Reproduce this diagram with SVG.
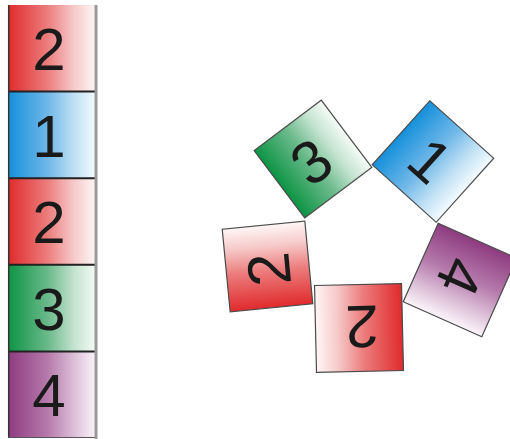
<svg xmlns="http://www.w3.org/2000/svg" width="510" height="439" viewBox="0 0 510 439">
  <style>
    .t{stroke:#4a4a4a;stroke-width:1.2}
    .d{font-family:"Liberation Sans",Arial,sans-serif;font-size:60px;fill:#1a1a1a;text-anchor:middle}
  </style>
  <defs>
    <linearGradient id="gR" x1="0" y1="0" x2="1" y2="0">
      <stop offset="0" stop-color="#e02a2c"/>
      <stop offset="0.45" stop-color="#ec7d7d"/>
      <stop offset="0.75" stop-color="#f6caca"/>
      <stop offset="1" stop-color="#fff6f6"/>
    </linearGradient>
    <linearGradient id="gB" x1="0" y1="0" x2="1" y2="0">
      <stop offset="0" stop-color="#1590db"/>
      <stop offset="0.45" stop-color="#6fb7e8"/>
      <stop offset="0.75" stop-color="#bfe0f4"/>
      <stop offset="1" stop-color="#f4fbff"/>
    </linearGradient>
    <linearGradient id="gG" x1="0" y1="0" x2="1" y2="0">
      <stop offset="0" stop-color="#0c9444"/>
      <stop offset="0.45" stop-color="#6ab98a"/>
      <stop offset="0.75" stop-color="#c3e3cf"/>
      <stop offset="1" stop-color="#f5fbf7"/>
    </linearGradient>
    <linearGradient id="gP" x1="0" y1="0" x2="1" y2="0">
      <stop offset="0" stop-color="#8e3b80"/>
      <stop offset="0.45" stop-color="#b57aab"/>
      <stop offset="0.75" stop-color="#dcbfd7"/>
      <stop offset="1" stop-color="#fbf5fa"/>
    </linearGradient>
  </defs>

  <!-- left column -->
  <g id="col-1"><rect x="8" y="5" width="88" height="86.6" fill="url(#gR)"/><text class="d" x="49" y="70">2</text></g>
  <g id="col-2"><rect x="8" y="91.6" width="88" height="86.6" fill="url(#gB)"/><text class="d" x="49" y="156.6">1</text></g>
  <g id="col-3"><rect x="8" y="178.2" width="88" height="86.6" fill="url(#gR)"/><text class="d" x="49" y="243.2">2</text></g>
  <g id="col-4"><rect x="8" y="264.8" width="88" height="86.6" fill="url(#gG)"/><text class="d" x="49" y="329.8">3</text></g>
  <g id="col-5"><rect x="8" y="351.4" width="88" height="86.6" fill="url(#gP)"/><text class="d" x="49" y="416.4">4</text></g>
  <g id="col-borders" fill="none">
    <path d="M8 91.6H96M8 178.2H96M8 264.8H96M8 351.4H96" stroke="#222" stroke-width="2"/>
    <path d="M8.7 5V438" stroke="#333" stroke-width="1.5"/>
    <path d="M8 437.5H96" stroke="#555" stroke-width="1.2"/>
    <path d="M96 5V439" stroke="#9a9a96" stroke-width="3"/>
  </g>

  <!-- rotated tiles -->
  <g id="tile-3" transform="translate(313,159) rotate(-37)">
    <rect class="t" x="-42" y="-42" width="84" height="84" fill="url(#gG)"/>
    <text class="d" x="-3" y="22">3</text>
  </g>
  <g id="tile-1" transform="translate(433,161.5) rotate(42)">
    <rect class="t" x="-43" y="-43" width="86" height="86" fill="url(#gB)"/>
    <text class="d" x="-3" y="22">1</text>
  </g>
  <g id="tile-2a" transform="translate(267.5,266.5) rotate(-95.5)">
    <rect class="t" x="-41.5" y="-41.5" width="83" height="83" fill="url(#gR)"/>
    <text class="d" x="-3" y="22">2</text>
  </g>
  <g id="tile-2b" transform="translate(359,328) rotate(178.7)">
    <rect class="t" x="-43.5" y="-43.5" width="87" height="87" fill="url(#gR)"/>
    <text class="d" x="-3" y="22">2</text>
  </g>
  <g id="tile-4" transform="translate(460,280) rotate(114)">
    <rect class="t" x="-43" y="-43" width="86" height="86" fill="url(#gP)"/>
    <text class="d" x="-3" y="22">4</text>
  </g>
</svg>
